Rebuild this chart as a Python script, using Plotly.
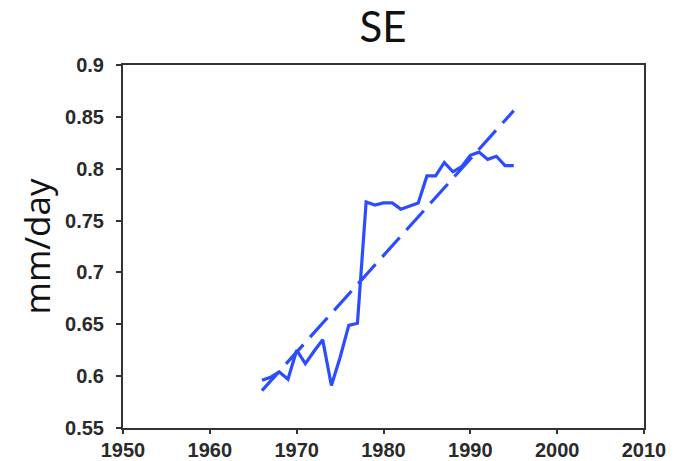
import plotly.graph_objects as go

years = list(range(1966, 1996))
values = [0.596, 0.599, 0.604, 0.597, 0.625, 0.612, 0.624, 0.635, 0.591, 0.618,
          0.649, 0.651, 0.768, 0.765, 0.767, 0.767, 0.761, 0.764, 0.767, 0.793,
          0.793, 0.806, 0.797, 0.802, 0.813, 0.816, 0.809, 0.812, 0.803, 0.803]

trend_years = [1966, 1995]
trend_values = [0.586, 0.856]

x_ticks = [1950, 1960, 1970, 1980, 1990, 2000, 2010]
y_ticks = [0.55, 0.6, 0.65, 0.7, 0.75, 0.8, 0.85, 0.9]
y_ticklabels = ["0.55", "0.6", "0.65", "0.7", "0.75", "0.8", "0.85", "0.9"]

blue = "#2b4cff"

fig = go.Figure()
fig.add_trace(go.Scatter(x=years, y=values, mode="lines",
                         line=dict(color=blue, width=3.2), showlegend=False))
fig.add_trace(go.Scatter(x=trend_years, y=trend_values, mode="lines",
                         line=dict(color=blue, width=3.2, dash="26px,10px"),
                         showlegend=False))

axis_common = dict(showline=True, linecolor="#333333", linewidth=2, mirror=True,
                   showgrid=False, zeroline=False, ticks="outside", automargin=False,
                   tickcolor="#333333", tickwidth=1.5,
                   tickfont=dict(family="Liberation Sans", size=20, color="#2a2a2a",
                                 weight="bold"))

fig.update_xaxes(range=[1950, 2010], tickvals=x_ticks, ticklen=4,
                 ticklabelstandoff=-1, **axis_common)
fig.update_yaxes(range=[0.55, 0.9], tickvals=y_ticks, ticktext=y_ticklabels,
                 ticklen=5, ticklabelstandoff=8,
                 title=dict(text="mm/day", font=dict(family="Open Sans", size=35, color="#111111"),
                            standoff=4),
                 **axis_common)

fig.update_layout(
    width=677, height=461,
    margin=dict(l=123, r=33, t=65, b=33),
    paper_bgcolor="white", plot_bgcolor="white",
    title=dict(text="SE", x=0.5657, xanchor="center", y=0.94, yanchor="middle",
               font=dict(family="Lato", size=42, color="#111111")),
)

fig.write_html("out.html", config={"displayModeBar": False},
               post_script="document.body.style.margin='0';document.body.style.overflow='hidden';")
